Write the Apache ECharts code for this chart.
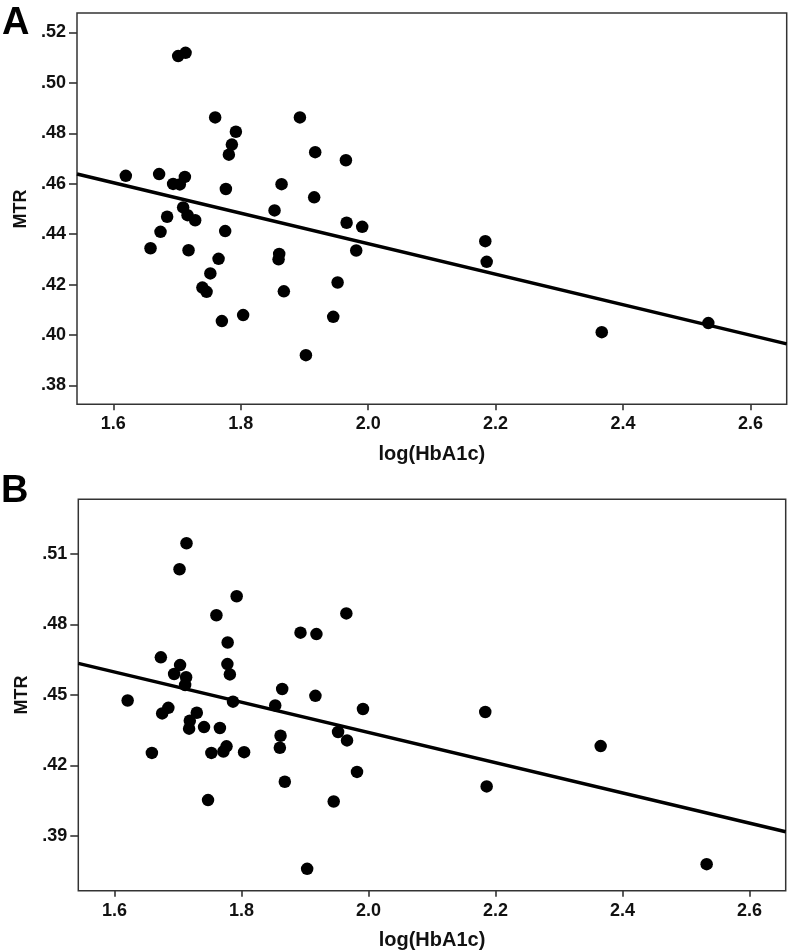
<!DOCTYPE html>
<html>
<head>
<meta charset="utf-8">
<script src="https://cdn.jsdelivr.net/npm/echarts@6/dist/echarts.min.js"></script>
<style>
html,body{margin:0;padding:0;background:#fff;}
#chart{width:790px;height:952px;}
</style>
</head>
<body>
<div id="chart"></div>
<script>
// Panel A data: log(HbA1c) vs MTR
const xA = [1.6196,1.6719,1.6939,1.7044,1.7123,1.7018,1.7134,1.7096,1.7165,1.7285,1.6845,1.7599,1.7924,1.7861,1.7814,1.7767,1.8929,1.9169,1.9651,1.8641,1.9153,1.8531,1.9662,1.9907,1.6584,1.6741,1.7181,1.7756,1.7652,1.7523,1.7398,1.7464,1.7704,1.8038,1.8604,1.8594,1.8677,1.9023,1.9521,1.9452,1.9813,2.1839,2.1861,2.3667,2.5340];
const yA = [.4631,.4638,.4599,.4597,.4627,.5106,.5119,.4506,.4475,.4455,.4469,.4863,.4806,.4755,.4715,.4579,.4863,.4725,.4693,.4598,.4546,.4494,.4445,.4429,.4344,.4409,.4336,.4412,.4302,.4244,.4188,.4171,.4055,.4079,.4321,.4300,.4173,.3920,.4208,.4072,.4335,.4372,.4290,.4011,.4047];
// Panel B data
const xB = [1.6207,1.6730,1.7033,1.6939,1.7128,1.7112,1.7024,1.7134,1.7605,1.7924,1.7782,1.7778,1.7817,1.7866,1.8929,1.9180,1.9651,1.8641,1.9164,1.8531,1.9913,1.6848,1.6751,1.7296,1.7186,1.7175,1.7410,1.7660,1.6589,1.7526,1.7715,1.7764,1.8041,1.7473,1.8615,1.8604,1.8682,1.9034,1.9521,1.9662,1.9452,1.9819,2.1839,2.1861,2.3656,2.5325];
const yB = [.4476,.4660,.4627,.4589,.4575,.4542,.5035,.5146,.4839,.4920,.4723,.4631,.4587,.4471,.4765,.4759,.4847,.4525,.4496,.4455,.4440,.4445,.4421,.4424,.4390,.4356,.4363,.4359,.4253,.4253,.4259,.4281,.4256,.4052,.4326,.4275,.4130,.3759,.4342,.4306,.4046,.4172,.4427,.4110,.4282,.3779];
// Fit lines [intercept, slope]
const fitA = [0.5572, -0.0605];
const fitB = [0.5628, -0.0644];
// Axis ticks and ranges
const xTicks = [1.6, 1.8, 2.0, 2.2, 2.4, 2.6];
const yTicksA = [.38, .40, .42, .44, .46, .48, .50, .52];
const yTicksB = [.39, .42, .45, .48, .51];
const xRange = [1.543, 2.657];
const yRangeA = [0.3725, 0.5277];
const yRangeB = [0.3666, 0.5333];

const FONT = '"Liberation Sans", Arial, sans-serif';
const AXC = '#333';

// plot boxes (layout)
const boxA = {left:77, top:13, width:709.7, height:391.3};
const boxB = {left:78.3, top:499.3, width:707.4, height:391.4};

function pts(xs, ys){ return xs.map((x,i)=>[x, ys[i]]); }
function fitLine(f){ return xRange.map(x => [x, f[0] + f[1]*x]); }
function yFmt(v){ return Number(v).toFixed(2).replace(/^0/, ''); }
function step(t){ return +(t[1]-t[0]).toFixed(4); }

// A tick-axis grid whose ends sit exactly on the first/last tick of the data box
function tickGrid(box, yr, yt){
  const pxX = v => box.left + (v - xRange[0])/(xRange[1]-xRange[0])*box.width;
  const pxY = v => box.top + (yr[1]-v)/(yr[1]-yr[0])*box.height;
  const l = pxX(xTicks[0]), r = pxX(xTicks[xTicks.length-1]);
  const t = pxY(yt[yt.length-1]), b = pxY(yt[0]);
  return {grid:{left:l, top:t, width:r-l, height:b-t},
          xOffset:(box.top+box.height)-b, yOffset:l-box.left};
}
const tgA = tickGrid(boxA, yRangeA, yTicksA);
const tgB = tickGrid(boxB, yRangeB, yTicksB);

function dataX(gi){
  return {type:'value', gridIndex:gi, min:xRange[0], max:xRange[1],
    axisLine:{show:false}, axisTick:{show:false}, axisLabel:{show:false}, splitLine:{show:false}};
}
function dataY(gi, yr){
  return {type:'value', gridIndex:gi, min:yr[0], max:yr[1],
    axisLine:{show:false}, axisTick:{show:false}, axisLabel:{show:false}, splitLine:{show:false}};
}
function tickX(gi, off){
  return {type:'value', gridIndex:gi, position:'bottom', offset:off,
    min:xTicks[0], max:xTicks[xTicks.length-1], interval:step(xTicks),
    name:'log(HbA1c)', nameLocation:'middle', nameGap:40,
    nameTextStyle:{fontFamily:FONT, fontWeight:'bold', fontSize:20, color:'#111'},
    axisLine:{show:false, onZero:false},
    axisTick:{show:true, inside:false, length:6, lineStyle:{color:AXC, width:1.6}},
    axisLabel:{show:true, margin:11, fontFamily:FONT, fontWeight:'bold', fontSize:18, color:'#111',
      formatter:v=>Number(v).toFixed(1)},
    splitLine:{show:false}};
}
function tickY(gi, off, yt){
  return {type:'value', gridIndex:gi, position:'left', offset:off,
    min:yt[0], max:yt[yt.length-1], interval:step(yt),
    name:'MTR', nameLocation:'middle', nameGap:44, nameRotate:90,
    nameTextStyle:{fontFamily:FONT, fontWeight:'bold', fontSize:18, color:'#111'},
    axisLine:{show:false, onZero:false},
    axisTick:{show:true, inside:false, length:8, lineStyle:{color:AXC, width:1.6}},
    axisLabel:{show:true, margin:11, fontFamily:FONT, fontWeight:'bold', fontSize:18, color:'#111',
      formatter:yFmt},
    splitLine:{show:false}};
}

const chart = echarts.init(document.getElementById('chart'), null, {renderer:'canvas'});
chart.setOption({
  animation:false,
  backgroundColor:'#fff',
  graphic:{elements:[
    {type:'text', left:2, top:5, style:{text:'A', font:'bold 38px "Liberation Sans", Arial, sans-serif', fill:'#000'}},
    {type:'text', left:1, top:473, style:{text:'B', font:'bold 38px "Liberation Sans", Arial, sans-serif', fill:'#000'}}
  ]},
  grid:[
    Object.assign({show:true, borderColor:AXC, borderWidth:1.5, backgroundColor:'transparent'}, boxA),
    Object.assign({show:true, borderColor:AXC, borderWidth:1.5, backgroundColor:'transparent'}, boxB),
    Object.assign({show:false}, tgA.grid),
    Object.assign({show:false}, tgB.grid)
  ],
  xAxis:[dataX(0), dataX(1), tickX(2, tgA.xOffset), tickX(3, tgB.xOffset)],
  yAxis:[dataY(0, yRangeA), dataY(1, yRangeB), tickY(2, tgA.yOffset, yTicksA), tickY(3, tgB.yOffset, yTicksB)],
  series:[
    {type:'line', xAxisIndex:0, yAxisIndex:0, data:fitLine(fitA), symbol:'none', lineStyle:{color:'#000', width:3.5}, z:2},
    {type:'scatter', xAxisIndex:0, yAxisIndex:0, data:pts(xA,yA), symbolSize:12.5, itemStyle:{color:'#000', opacity:1}, z:3},
    {type:'line', xAxisIndex:1, yAxisIndex:1, data:fitLine(fitB), symbol:'none', lineStyle:{color:'#000', width:3.5}, z:2},
    {type:'scatter', xAxisIndex:1, yAxisIndex:1, data:pts(xB,yB), symbolSize:12.5, itemStyle:{color:'#000', opacity:1}, z:3}
  ]
});
</script>
</body>
</html>
